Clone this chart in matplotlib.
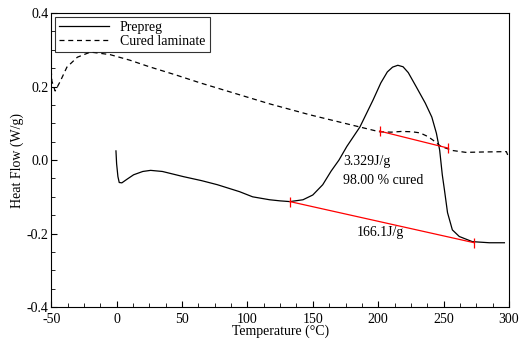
import matplotlib.pyplot as plt
from matplotlib.ticker import MultipleLocator, AutoMinorLocator

plt.rcParams['font.family'] = ['Liberation Serif', 'DejaVu Serif']

# Cured laminate (dashed)
cured_t = [-50, -49.5, -47, -43, -38, -30, -20, -5, 10, 25, 45, 64, 90, 117, 148, 186,
           201, 210, 218, 226, 232, 238, 242, 248, 257, 267, 280, 298, 299]
cured_hf = [0.245, 0.215, 0.188, 0.215, 0.253, 0.280, 0.294, 0.287, 0.272, 0.254, 0.232, 0.210,
            0.182, 0.153, 0.123, 0.090, 0.077, 0.076, 0.078, 0.077, 0.074, 0.064, 0.054, 0.037,
            0.026, 0.021, 0.022, 0.023, 0.014]

# Prepreg (solid)
prep_t = [-0.5, 0, 1, 2, 4, 8, 13, 20, 26, 35, 51, 65, 77, 94, 104, 117, 125, 132.5,
          142.5, 150, 157.6, 164, 170, 176, 186, 196, 202, 207, 211, 215, 219, 223, 229,
          236, 241, 244.5, 247, 249, 250.6, 253, 256.7, 262, 272, 285, 296.5]
prep_hf = [0.025, -0.01, -0.045, -0.061, -0.062, -0.052, -0.040, -0.031, -0.028, -0.031,
           -0.045, -0.056, -0.067, -0.086, -0.100, -0.108, -0.111, -0.113, -0.108, -0.095,
           -0.067, -0.030, 0.000, 0.037, 0.090, 0.163, 0.210, 0.240, 0.253, 0.258, 0.254,
           0.238, 0.200, 0.155, 0.117, 0.073, 0.027, -0.040, -0.080, -0.143, -0.190, -0.208,
           -0.222, -0.225, -0.225]

# integration baselines
base1_t = [201, 253]
base1_hf = [0.079, 0.033]
base2_t = [132.5, 273.5]
base2_hf = [-0.113, -0.225]

fig = plt.figure(figsize=(5.28, 3.45), dpi=100)
ax = fig.add_axes([0.097, 0.110, 0.867, 0.852])

ax.plot(prep_t, prep_hf, color='black', lw=0.9, label='Prepreg')
ax.plot(cured_t, cured_hf, color='black', lw=0.9, dashes=(4, 3), label='Cured laminate')
ax.plot(base1_t, base1_hf, color='red', lw=0.9, marker='|', ms=7, mew=0.9)
ax.plot(base2_t, base2_hf, color='red', lw=0.9, marker='|', ms=7, mew=0.9)

ax.text(173, -0.005, '3.329J/g', fontsize=10, va='center', ha='left')
ax.text(173, -0.055, '98.00 % cured', fontsize=10, va='center', ha='left')
ax.text(202, -0.197, '166.1J/g', fontsize=10, va='center', ha='center')

ax.set_xlim(-50, 300)
ax.set_ylim(-0.4, 0.4)
ax.xaxis.set_major_locator(MultipleLocator(50))
ax.yaxis.set_major_locator(MultipleLocator(0.2))
ax.xaxis.set_minor_locator(AutoMinorLocator(4))
ax.yaxis.set_minor_locator(AutoMinorLocator(4))
ax.tick_params(which='both', direction='in', labelsize=10)
ax.tick_params(axis='x', pad=4)
ax.tick_params(axis='y', pad=2)
ax.tick_params(which='major', length=4)
ax.tick_params(which='minor', length=3)
ax.xaxis.set_major_formatter(plt.FuncFormatter(lambda v, p: f'{int(v)}'))
ax.yaxis.set_major_formatter(plt.FuncFormatter(lambda v, p: f'{v:.1f}'))

ax.set_xlabel('Temperature (°C)', fontsize=10, labelpad=-1)
ax.set_ylabel('Heat Flow (W/g)', fontsize=10, labelpad=2)

leg = ax.legend(loc='upper left', fontsize=10, frameon=True, fancybox=False,
                edgecolor='black', handlelength=3.6, borderaxespad=0.25,
                labelspacing=0.1, borderpad=0.3)
leg.get_frame().set_linewidth(0.8)

plt.savefig('out.png', dpi=100)
